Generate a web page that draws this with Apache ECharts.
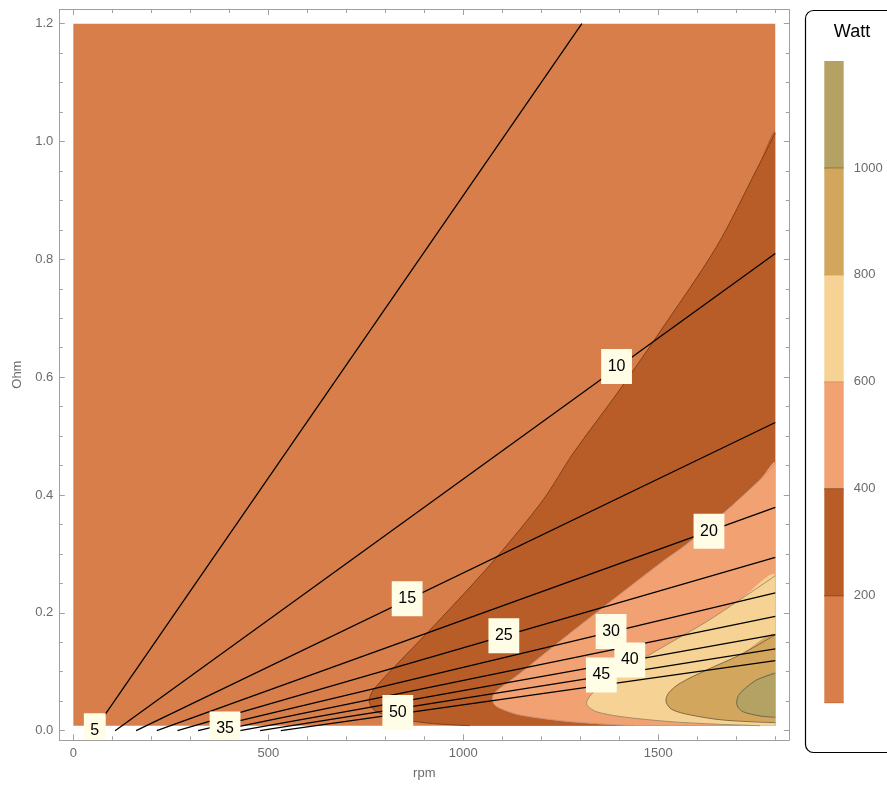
<!DOCTYPE html>
<html><head><meta charset="utf-8">
<script src="https://cdn.jsdelivr.net/npm/echarts@6/dist/echarts.min.js"></script>
<style>html,body{margin:0;padding:0;background:#fff}#c{width:887px;height:787px}</style>
</head><body><div id="c"></div><script>
// ---- axes / ticks ----
const rpmMajorTicks = [0, 500, 1000, 1500];
const rpmMinorTicks = [0,100,200,300,400,500,600,700,800,900,1000,1100,1200,1300,1400,1500,1600,1700,1800];
const ohmMajorTicks = [0, 0.2, 0.4, 0.6, 0.8, 1.0, 1.2];
const ohmMinorTicks = [0,0.05,0.1,0.15,0.2,0.25,0.3,0.35,0.4,0.45,0.5,0.55,0.6,0.65,0.7,0.75,0.8,0.85,0.9,0.95,1.0,1.05,1.1,1.15,1.2];
const wattTicks = [200, 400, 600, 800, 1000];
const wattBandEdges = [0, 200, 400, 600, 800, 1000, 1200];
const wattBandColors = ['#d87e4a', '#b95d28', '#f2a173', '#f6d395', '#d3a65e', '#b4a264'];
const wattEdgeColors = ['#c56a35', '#86431a', '#8e4a1e', '#dc9466', '#d4a35a', '#8c7a45'];

// ---- filled contour domain and boundaries [rpm, ohm] ----
const domainRpm = [0, 1800];
const domainOhm = [0.0085, 1.2];
const boundary200 = [[1017,0.0085],[915,0.0125],[829,0.021],[778,0.032],[765,0.040],[759,0.049],[761,0.058],[769,0.069],[820,0.106],[906,0.165],[987,0.222],[1080,0.29],[1205,0.392],[1282,0.471],[1395,0.573],[1496,0.669],[1650,0.822],[1752,0.952],[1800,1.014]];
const boundary400 = [[1436,0.0085],[1274,0.0153],[1145,0.0267],[1094,0.038],[1079,0.045],[1075,0.055],[1080,0.064],[1094,0.072],[1145,0.097],[1231,0.143],[1360,0.21],[1517,0.29],[1570,0.315],[1667,0.369],[1761,0.426],[1800,0.454]];
const boundary600 = [[1761,0.0085],[1650,0.011],[1530,0.0153],[1402,0.024],[1342,0.032],[1324,0.039],[1316,0.0465],[1324,0.058],[1345,0.072],[1380,0.090],[1470,0.126],[1538,0.152],[1624,0.185],[1709,0.222],[1800,0.263]];
const boundary800 = [[1800,0.0136],[1667,0.018],[1582,0.0267],[1535,0.036],[1520,0.049],[1526,0.0635],[1556,0.0805],[1624,0.103],[1709,0.1285],[1800,0.1625]];
const boundary1000 = [[1800,0.0227],[1761,0.025],[1718,0.032],[1704,0.040],[1701,0.049],[1706,0.060],[1718,0.069],[1752,0.086],[1800,0.0975]];
const boundaryColors = [null, '#80401a', '#c9937c', '#a48e68', '#7f6c40', '#6d6a45'];

// ---- contour lines (labelled) ----
const levels = [5, 10, 15, 20, 25, 30, 35, 40, 45, 50];
const levelStartRpm = [53, 107, 161, 214, 267, 320, 373, 427, 479, 532];
const levelEndRpm = [1304, 1800, 1800, 1800, 1800, 1800, 1800, 1800, 1800, 1800];
const levelEndOhm = [1.2, 0.81, 0.523, 0.379, 0.294, 0.234, 0.194, 0.163, 0.139, 0.119];
const labelRpm = [55, 1393, 856, 1630, 1104, 1379, 389, 1427, 1354, 832];
const labelOhm = [0.0, 0.618, 0.224, 0.3385, 0.161, 0.1684, 0.003, 0.120, 0.0946, 0.031];

const FONT = '"Liberation Sans", Arial, Helvetica, sans-serif';
const GRAY = '#a0a0a0';
const TXT = '#6b6b6b';
const SMOOTH = 0.3;

const regionCurves = [null, boundary200, boundary400, boundary600, boundary800, boundary1000];

function renderRegion(params, api) {
  const i = params.dataIndex;
  const a = api.coord([domainRpm[0], domainOhm[1]]);
  const b = api.coord([domainRpm[1], domainOhm[0]]);
  if (i === 0) {
    return { type: 'rect', shape: { x: a[0], y: a[1], width: b[0] - a[0], height: b[1] - a[1] },
      style: { fill: wattBandColors[0] } };
  }
  const box = [[a[0], a[1]], [b[0], b[1]]];
  const curve = regionCurves[i].map(p => api.coord(p));
  const pts = curve.concat([[b[0], b[1]]]);
  return { type: 'group', children: [
    { type: 'polygon', shape: { points: pts, smooth: SMOOTH, smoothConstraint: box },
      style: { fill: wattBandColors[i] } },
    { type: 'polyline', shape: { points: curve, smooth: SMOOTH, smoothConstraint: box },
      style: { stroke: boundaryColors[i], lineWidth: 1, fill: 'none' } }
  ] };
}

function renderLabel(params, api) {
  const i = params.dataIndex;
  const p = api.coord([labelRpm[i], labelOhm[i]]);
  return { type: 'text', x: p[0], y: p[1], style: {
    text: String(levels[i]), fill: '#000', font: '16px ' + FONT,
    align: 'center', verticalAlign: 'middle', lineHeight: 17,
    backgroundColor: '#fffde6', padding: [9, 6.5, 9, 6.5] } };
}

function renderLegendBand(params, api) {
  const i = params.dataIndex;
  const lo = api.coord([0, wattBandEdges[i]]);
  const hi = api.coord([1, wattBandEdges[i + 1]]);
  return { type: 'group', children: [
    { type: 'rect', shape: { x: lo[0], y: hi[1], width: hi[0] - lo[0], height: lo[1] - hi[1] },
      style: { fill: wattBandColors[i] } },
    { type: 'line', shape: { x1: lo[0], y1: lo[1], x2: hi[0], y2: lo[1] },
      style: { stroke: wattEdgeColors[i], lineWidth: 1 } }
  ] };
}

function xAxisDef(pos, ticks, len, withLabel, withLine) {
  return {
    type: 'value', gridIndex: 0, min: -36, max: 1836, position: pos,
    axisLine: { show: withLine, onZero: false, lineStyle: { color: GRAY, width: 1 } },
    axisTick: { show: true, inside: true, length: len, customValues: ticks, lineStyle: { color: GRAY, width: 1 } },
    axisLabel: withLabel ? { show: true, customValues: rpmMajorTicks, color: TXT, fontSize: 13, fontFamily: FONT, margin: 7,
      formatter: v => String(v) } : { show: false },
    splitLine: { show: false },
    name: withLabel ? 'rpm' : '', nameLocation: 'middle', nameGap: 27,
    nameTextStyle: { color: TXT, fontSize: 13, fontFamily: FONT }
  };
}
function yAxisDef(pos, ticks, len, withLabel, withLine) {
  return {
    type: 'value', gridIndex: 0, min: -0.0155, max: 1.224, position: pos,
    axisLine: { show: withLine, onZero: false, lineStyle: { color: GRAY, width: 1 } },
    axisTick: { show: true, inside: true, length: len, customValues: ticks, lineStyle: { color: GRAY, width: 1 } },
    axisLabel: withLabel ? { show: true, customValues: ohmMajorTicks, color: TXT, fontSize: 13, fontFamily: FONT, margin: 6,
      formatter: v => v.toFixed(1) } : { show: false },
    splitLine: { show: false },
    name: withLabel ? 'Ohm' : '', nameLocation: 'middle', nameGap: 34,
    nameTextStyle: { color: TXT, fontSize: 13, fontFamily: FONT }
  };
}

const lineSeries = levels.map((lv, i) => ({
  type: 'line', xAxisIndex: 0, yAxisIndex: 0, z: 3, silent: true,
  symbol: 'none', data: [[levelStartRpm[i], 0], [levelEndRpm[i], levelEndOhm[i]]],
  lineStyle: { color: '#000', width: 1.25 }
}));

const chart = echarts.init(document.getElementById('c'), null, { renderer: 'canvas' });
chart.setOption({
  animation: false,
  backgroundColor: '#fff',
  grid: [
    { left: 59.3, top: 9.5, width: 730, height: 730.3, outerBoundsMode: 'none', containLabel: false },
    { left: 824.3, top: 61, width: 19.4, height: 641.7, outerBoundsMode: 'none', containLabel: false }
  ],
  xAxis: [
    xAxisDef('bottom', rpmMajorTicks, 5.5, true, true),
    xAxisDef('bottom', rpmMinorTicks, 3.5, false, false),
    xAxisDef('top', rpmMajorTicks, 5.5, false, true),
    xAxisDef('top', rpmMinorTicks, 3.5, false, false),
    { type: 'value', gridIndex: 1, min: 0, max: 1, show: false }
  ],
  yAxis: [
    yAxisDef('left', ohmMajorTicks, 5.5, true, true),
    yAxisDef('left', ohmMinorTicks, 3.5, false, false),
    yAxisDef('right', ohmMajorTicks, 5.5, false, true),
    yAxisDef('right', ohmMinorTicks, 3.5, false, false),
    { type: 'value', gridIndex: 1, min: 0, max: 1200, position: 'right',
      axisLine: { show: false },
      axisTick: { show: true, inside: false, length: 5.5, customValues: wattTicks, lineStyle: { color: GRAY } },
      axisLabel: { show: true, customValues: wattTicks, color: TXT, fontSize: 13, fontFamily: FONT, margin: 10,
        formatter: v => String(v) },
      splitLine: { show: false } }
  ],
  graphic: [
    { type: 'rect', silent: true, shape: { x: 805.5, y: 10.5, width: 140, height: 742, r: 8 },
      style: { fill: 'none', stroke: '#000', lineWidth: 1.2 } },
    { type: 'text', silent: true, x: 852, y: 31.7,
      style: { text: 'Watt', fill: '#000', font: '18px ' + FONT, align: 'center', verticalAlign: 'middle' } }
  ],
  series: [
    { type: 'custom', xAxisIndex: 0, yAxisIndex: 0, z: 1, silent: true,
      data: [0, 1, 2, 3, 4, 5], renderItem: renderRegion },
    ...lineSeries,
    { type: 'custom', xAxisIndex: 0, yAxisIndex: 0, z: 4, silent: true, clip: true,
      data: levels.map((v, i) => i), renderItem: renderLabel },
    { type: 'custom', xAxisIndex: 4, yAxisIndex: 4, z: 1, silent: true,
      data: [0, 1, 2, 3, 4, 5], renderItem: renderLegendBand }
  ]
});
</script></body></html>
